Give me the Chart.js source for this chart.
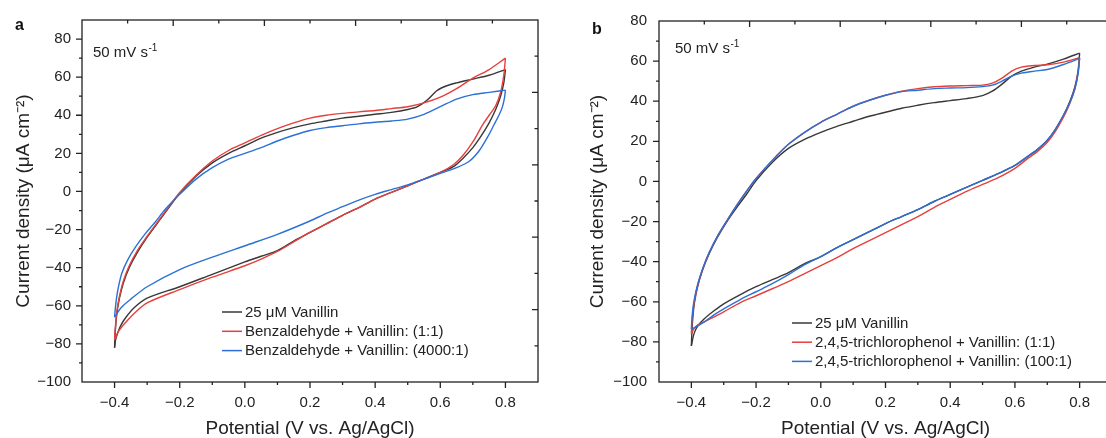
<!DOCTYPE html>
<html>
<head>
<meta charset="utf-8">
<script src="https://cdn.jsdelivr.net/npm/chart.js@4.4.1/dist/chart.umd.min.js"></script>
<style>
  html, body { margin: 0; padding: 0; background: #fff; }
  #wrap { position: relative; width: 1106px; height: 438px; overflow: hidden; background: #fff; }
  canvas { position: absolute; top: 0; }
</style>
</head>
<body>
<div id="wrap">
  <canvas id="chartA" width="560" height="438" style="left:0"></canvas>
  <canvas id="chartB" width="560" height="438" style="left:560px"></canvas>
</div>
<script>
// tick labels
const potentialTicks = [-0.4, -0.2, 0.0, 0.2, 0.4, 0.6, 0.8];
const currentTicks = [-100, -80, -60, -40, -20, 0, 20, 40, 60, 80];

const seriesColors = ["#383838", "#e5403c", "#2b70d6"];
const legendA = ["25 μM Vanillin", "Benzaldehyde + Vanillin: (1:1)", "Benzaldehyde + Vanillin: (4000:1)"];
const legendB = ["25 μM Vanillin", "2,4,5-trichlorophenol + Vanillin: (1:1)", "2,4,5-trichlorophenol + Vanillin: (100:1)"];

// panel a: each loop = forward scan to 0.8 V, then back to -0.4 V
const aVanillinV = [-0.4, -0.398, -0.393, -0.385, -0.373, -0.355, -0.33, -0.3, -0.27, -0.24, -0.2, -0.15, -0.1, -0.05, 0.0, 0.05, 0.1, 0.15, 0.2, 0.25, 0.3, 0.35, 0.4, 0.45, 0.5, 0.53, 0.56, 0.59, 0.62, 0.65, 0.7, 0.75, 0.8,
    0.795, 0.785, 0.77, 0.75, 0.725, 0.7, 0.67, 0.64, 0.6, 0.55, 0.5, 0.45, 0.4, 0.35, 0.3, 0.25, 0.2, 0.15, 0.1, 0.05, 0.0, -0.1, -0.2, -0.3, -0.34, -0.365, -0.38, -0.39, -0.397, -0.4];
const aVanillinI = [-82, -74, -64, -56, -48, -40, -32, -24, -17, -10, -1, 8, 15, 20, 24, 28, 31, 33.5, 35.5, 37, 38.5, 39.5, 40.5, 41.5, 43, 44.5, 48, 53, 55.5, 57, 59, 61, 64,
    57, 50, 43, 36, 29, 23, 17.5, 13, 10, 6.5, 3, -0.5, -4, -8.5, -12.5, -17, -21.5, -26, -31, -34, -37, -43.5, -50, -56, -61, -66, -70, -74, -78, -82];

const aBenz1V = [-0.4, -0.398, -0.393, -0.385, -0.373, -0.355, -0.33, -0.3, -0.27, -0.24, -0.2, -0.15, -0.1, -0.05, 0.0, 0.05, 0.1, 0.15, 0.2, 0.25, 0.3, 0.35, 0.4, 0.45, 0.5, 0.55, 0.6, 0.65, 0.7, 0.75, 0.8,
    0.795, 0.785, 0.77, 0.75, 0.73, 0.7, 0.67, 0.64, 0.6, 0.55, 0.5, 0.45, 0.4, 0.35, 0.3, 0.25, 0.2, 0.15, 0.1, 0.05, 0.0, -0.1, -0.2, -0.3, -0.34, -0.365, -0.38, -0.39, -0.4];
const aBenz1I = [-78, -72, -63, -55, -47, -39, -31, -23.5, -16.5, -9.5, -0.5, 8.5, 16, 21.5, 25.5, 29.5, 33, 36, 38.5, 40, 41, 41.8, 42.5, 43.5, 44.5, 46.5, 49.5, 54, 59.5, 64, 70,
    61, 52, 45, 40, 35, 26, 19, 14, 10, 6.5, 3, -0.5, -4, -8.5, -12.5, -17, -21.5, -26.5, -31.5, -35.5, -39, -45, -51.5, -58.5, -64, -68.5, -71.5, -74, -78];

const aBenz4000V = [-0.4, -0.398, -0.394, -0.388, -0.378, -0.36, -0.335, -0.305, -0.275, -0.245, -0.2, -0.15, -0.1, -0.05, 0.0, 0.05, 0.1, 0.15, 0.2, 0.25, 0.3, 0.35, 0.4, 0.45, 0.5, 0.55, 0.6, 0.65, 0.7, 0.75, 0.8,
    0.797, 0.79, 0.78, 0.765, 0.745, 0.72, 0.69, 0.65, 0.6, 0.55, 0.5, 0.45, 0.4, 0.35, 0.3, 0.25, 0.2, 0.1, 0.0, -0.1, -0.2, -0.3, -0.35, -0.38, -0.4];
const aBenz4000I = [-66, -62, -56, -50, -43, -36, -29, -22, -16, -9.5, -1.5, 6.5, 12.5, 17, 20, 23, 26.5, 29.5, 32, 33.5, 34.5, 35.5, 36.3, 37, 38, 40.5, 44.5, 48.5, 50.8, 52, 53.2,
    49, 44, 40, 35, 28.5, 21.5, 16, 12.5, 9.5, 6.5, 3.5, 1, -1.5, -4.5, -8, -11.5, -15.5, -22.5, -28.5, -34.5, -41, -50, -56.5, -61, -66];

// panel b
const bForwardV = [-0.4, -0.398, -0.395, -0.39, -0.38, -0.365, -0.345, -0.32, -0.29, -0.26, -0.23, -0.2, -0.15, -0.1, -0.05, 0.0, 0.05, 0.1, 0.15, 0.2, 0.25, 0.3, 0.35, 0.4, 0.45, 0.5, 0.53, 0.56, 0.59, 0.62, 0.66, 0.7, 0.75, 0.8];
const bReverseV = [0.795, 0.785, 0.77, 0.75, 0.725, 0.7, 0.67, 0.64, 0.6, 0.55, 0.5, 0.45, 0.4, 0.35, 0.3, 0.25, 0.2, 0.15, 0.1, 0.05, 0.0, -0.05, -0.1, -0.15, -0.2, -0.25, -0.3, -0.33, -0.36, -0.38, -0.392, -0.4];
const bVanillinI = [-82, -74, -67, -60, -52, -44, -36, -28, -20, -13, -6.5, 0.5, 9.5, 16.5, 21, 24.5, 27.5, 30, 32.5, 34.5, 36.5, 38, 39.3, 40.3, 41.3, 42.8, 45, 48.5, 52.5, 55, 57, 58.5, 61, 64,
    55, 47, 40, 33, 26, 20.5, 16, 12.5, 8, 4, 0.5, -3, -6.5, -10, -14, -17.5, -21, -25, -29, -33, -37.5, -41, -45.5, -49, -52.5, -56.5, -61, -64.5, -68.5, -72, -76, -82];
const bTcp1I = [-76, -70, -65, -59, -51.5, -43.5, -35.5, -27.5, -19.5, -12, -5, 1.5, 10.5, 18.5, 24.5, 29.5, 33.5, 37.5, 40.5, 43, 45, 46.3, 47.2, 47.6, 47.8, 48, 49, 51.5, 55, 57, 57.8, 58.2, 59.5, 61.7,
    54, 46, 39, 32, 25, 19.5, 15, 11.5, 6.5, 2, -1.5, -5, -9, -13, -17.5, -21.5, -25.5, -29.5, -33.5, -38, -42, -46, -50, -53.5, -57, -60.5, -65, -67.5, -70, -71.5, -73.5, -76];
const bTcp100I = [-73.6, -68, -63, -58, -51, -43.5, -35.5, -27.5, -19.5, -12, -5, 1.5, 10.5, 18.5, 24.5, 29.5, 33.5, 37.5, 40.5, 43, 44.8, 45.5, 46.3, 46.6, 46.8, 47.3, 48, 50, 52.5, 54, 55, 55.8, 58.3, 61.4,
    53.5, 46, 39.5, 33, 26, 20.5, 16, 12.5, 8, 4, 0.5, -3, -6.5, -10, -14, -17.5, -21, -25, -29, -33, -37.5, -41.5, -46.5, -51, -55, -59, -63.5, -66.5, -70, -72, -73, -73.6];
const bLoopV = bForwardV.concat(bReverseV);

Chart.defaults.font.family = "'Liberation Sans', Arial, sans-serif";
Chart.defaults.color = "#222";

function signed(v, digits) {
    const txt = Math.abs(v).toFixed(digits);
    return (v < 0 ? "\u2212" : "") + txt;
}

// one loop -> two open lines so the turning points stay sharp
function loopDatasets(V, I, color, label, order) {
    const turn = V.indexOf(Math.max(...V));
    const pts = V.map((v, i) => ({x: v, y: I[i]}));
    const common = {
        label: label,
        showLine: true,
        borderColor: color,
        backgroundColor: color,
        borderWidth: 1.4,
        pointRadius: 0,
        tension: 0.3,
        fill: false,
        order: order
    };
    return [
        Object.assign({data: pts.slice(0, turn + 1)}, common),
        Object.assign({data: pts.slice(turn)}, common)
    ];
}

const framePlugin = {
    id: "frame",
    afterDraw(chart, args, opts) {
        const ctx = chart.ctx;
        const a = chart.chartArea;
        const x = chart.scales.x;
        const y = chart.scales.y;
        const w = a.right - a.left;
        const h = a.bottom - a.top;

        ctx.save();
        ctx.strokeStyle = "#222";
        ctx.lineWidth = 1.3;
        ctx.strokeRect(a.left, a.top, w, h);

        ctx.beginPath();
        // bottom: outward, every 0.1 V
        for (let k = Math.round(x.min * 10) + 1; k < Math.round(x.max * 10); k++) {
            const px = x.getPixelForValue(k / 10);
            const len = k % 2 === 0 ? 6 : 3;
            ctx.moveTo(px, a.bottom);
            ctx.lineTo(px, a.bottom + len);
        }
        // left: outward, every 10
        for (let k = Math.round(y.min / 10) + 1; k < Math.round(y.max / 10); k++) {
            const py = y.getPixelForValue(k * 10);
            const len = k % 2 === 0 ? 6 : 3;
            ctx.moveTo(a.left, py);
            ctx.lineTo(a.left - len, py);
        }
        // top and right: inward, tenths of the frame
        for (let i = 1; i < 10; i++) {
            const len = i % 2 === 0 ? 6 : 3.5;
            const px = a.left + w * i / 10;
            ctx.moveTo(px, a.top);
            ctx.lineTo(px, a.top + len);
            const py = a.top + h * i / 10;
            ctx.moveTo(a.right, py);
            ctx.lineTo(a.right - len, py);
        }
        ctx.stroke();

        // legend
        const lg = opts.legend;
        ctx.font = "15px 'Liberation Sans', Arial, sans-serif";
        ctx.textBaseline = "middle";
        ctx.textAlign = "left";
        lg.labels.forEach((label, i) => {
            const ly = lg.y + i * lg.step;
            ctx.strokeStyle = seriesColors[i];
            ctx.lineWidth = 1.5;
            ctx.beginPath();
            ctx.moveTo(lg.x, ly);
            ctx.lineTo(lg.x + 20, ly);
            ctx.stroke();
            ctx.fillStyle = "#222";
            ctx.fillText(label, lg.x + 23, ly + 0.5);
        });

        // scan rate note
        const r = opts.rate;
        ctx.textBaseline = "alphabetic";
        ctx.font = "15px 'Liberation Sans', Arial, sans-serif";
        ctx.fillText("50 mV s", r.x, r.y);
        const rw = ctx.measureText("50 mV s").width;
        ctx.font = "10px 'Liberation Sans', Arial, sans-serif";
        ctx.fillText("-1", r.x + rw + 0.5, r.y - 6);

        // panel letter
        ctx.font = "bold 16px 'Liberation Sans', Arial, sans-serif";
        ctx.fillStyle = "#111";
        ctx.fillText(opts.tag.text, opts.tag.x, opts.tag.y);
        ctx.restore();
    }
};

function makeChart(id, datasets, lay) {
    new Chart(document.getElementById(id), {
        type: "scatter",
        data: { datasets: datasets },
        options: {
            responsive: false,
            animation: false,
            devicePixelRatio: 1,
            layout: { padding: { left: 0, top: lay.top, right: lay.right, bottom: 0 } },
            plugins: {
                legend: { display: false },
                tooltip: { enabled: false },
                frame: { legend: lay.legend, rate: lay.rate, tag: lay.tag }
            },
            scales: {
                x: {
                    type: "linear",
                    min: -0.5,
                    max: 0.9,
                    afterBuildTicks: s => { s.ticks = potentialTicks.map(v => ({ value: v })); },
                    afterFit: s => { s.height = 56; },
                    grid: { display: false, drawTicks: false, tickLength: 0 },
                    border: { display: false },
                    ticks: {
                        padding: 12,
                        autoSkip: false,
                        maxRotation: 0,
                        font: { size: 15 },
                        color: "#222",
                        callback: v => signed(v, 1)
                    },
                    title: {
                        display: true,
                        text: "Potential (V vs. Ag/AgCl)",
                        font: { size: 19, lineHeight: 1 },
                        color: "#222",
                        padding: { top: 0, bottom: 0 }
                    }
                },
                y: {
                    type: "linear",
                    min: -100,
                    max: lay.ymax,
                    afterBuildTicks: s => { s.ticks = currentTicks.map(v => ({ value: v })); },
                    afterFit: s => { s.width = lay.yWidth; },
                    grid: { display: false, drawTicks: false, tickLength: 0 },
                    border: { display: false },
                    ticks: {
                        padding: lay.yPad,
                        autoSkip: false,
                        font: { size: 15 },
                        color: "#222",
                        callback: v => signed(v, 0)
                    },
                    title: {
                        display: true,
                        text: "Current density (μA cm⁻²)",
                        font: { size: 19, lineHeight: 1 },
                        color: "#222",
                        padding: { top: lay.titleX, bottom: 0 }
                    }
                }
            }
        },
        plugins: [framePlugin]
    });
}

makeChart("chartA", [].concat(
    loopDatasets(aVanillinV, aVanillinI, seriesColors[0], legendA[0], 3),
    loopDatasets(aBenz1V, aBenz1I, seriesColors[1], legendA[1], 2),
    loopDatasets(aBenz4000V, aBenz4000I, seriesColors[2], legendA[2], 1)
), {
    top: 18, right: 22, ymax: 90, yWidth: 82, yPad: 11, titleX: 14.5,
    legend: { x: 222, y: 312, step: 19.3, labels: legendA },
    rate: { x: 93, y: 56.5 },
    tag: { text: "a", x: 15, y: 29.5 }
});

makeChart("chartB", [].concat(
    loopDatasets(bLoopV, bVanillinI, seriesColors[0], legendB[0], 3),
    loopDatasets(bLoopV, bTcp1I, seriesColors[1], legendB[1], 2),
    loopDatasets(bLoopV, bTcp100I, seriesColors[2], legendB[2], 1)
), {
    top: 17, right: 8, ymax: 80, yWidth: 99, yPad: 12, titleX: 28.5,
    legend: { x: 232, y: 323, step: 19.2, labels: legendB },
    rate: { x: 115, y: 52.5 },
    tag: { text: "b", x: 32, y: 33.5 }
});
</script>
</body>
</html>
